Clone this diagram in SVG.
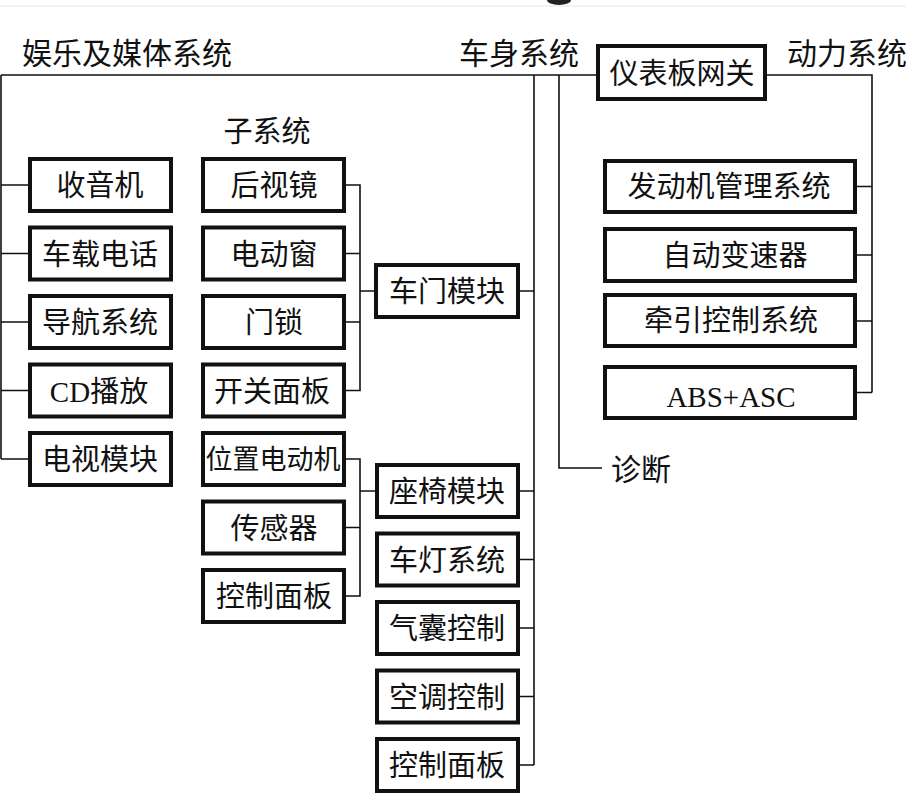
<svg xmlns="http://www.w3.org/2000/svg" width="906" height="794" viewBox="0 0 906 794">
<style>
.box{fill:#fff;stroke:#111;stroke-width:4}
.ln{fill:none;stroke:#111;stroke-width:1.6}
text{font-family:"Noto Sans CJK SC","Liberation Serif",serif;font-size:29px;fill:#111;text-anchor:middle}
.hd{text-anchor:start;font-size:30px}
.lat{font-family:"Liberation Serif",serif}
</style>
<rect width="906" height="794" fill="#fff"/>
<line x1="0" y1="6" x2="906" y2="6" stroke="#e6e6e6" stroke-width="1"/>
<ellipse cx="559" cy="0" rx="12" ry="5" fill="#222"/>

<g id="connectors">
<path class="ln" d="M1 75 H596 M767 75 H872 V392.5"/>
<path class="ln" d="M1 75 V459 M1 185 H28 M1 253.5 H28 M1 322 H28 M1 390.5 H28 M1 459 H28"/>
<path class="ln" d="M346 185 H360 V390.5 H346 M346 253.5 H360 M346 322 H360 M360 291 H374"/>
<path class="ln" d="M346 459 H360 V596 H346 M346 527.5 H360 M360 491 H375"/>
<path class="ln" d="M534 75 V765 M520 291 H534 M520 491 H534 M520 559.5 H534 M520 628 H534 M520 696.5 H534 M520 765 H534"/>
<path class="ln" d="M559 75 V468 H602"/>
<path class="ln" d="M857 186.5 H872 M857 255 H872 M857 321 H872 M857 392.5 H872"/>
</g>

<g id="labels">
<text class="hd" x="22" y="64">娱乐及媒体系统</text>
<text class="hd" x="459" y="64">车身系统</text>
<text class="hd" x="787" y="64">动力系统</text>
<text x="267" y="142">子系统</text>
<text class="hd" x="611" y="480">诊断</text>
</g>

<g id="gateway"><rect class="box" x="598" y="46" width="167" height="53"/><text x="682" y="84">仪表板网关</text></g>

<g id="radio"><rect class="box" x="30" y="159" width="141" height="52"/><text x="100" y="196">收音机</text></g>
<g id="phone"><rect class="box" x="30" y="227.5" width="141" height="52"/><text x="100" y="264.5">车载电话</text></g>
<g id="nav"><rect class="box" x="30" y="296" width="141" height="52"/><text x="100" y="333">导航系统</text></g>
<g id="cd"><rect class="box" x="30" y="364.5" width="141" height="52"/><text x="99" y="401.5"><tspan class="lat">CD</tspan>播放</text></g>
<g id="tv"><rect class="box" x="30" y="433" width="141" height="52"/><text x="100" y="470">电视模块</text></g>

<g id="mirror"><rect class="box" x="203" y="159" width="141" height="52"/><text x="274" y="196">后视镜</text></g>
<g id="window"><rect class="box" x="203" y="227.5" width="141" height="52"/><text x="274" y="264.5">电动窗</text></g>
<g id="lock"><rect class="box" x="203" y="296" width="141" height="52"/><text x="274" y="333">门锁</text></g>
<g id="switch"><rect class="box" x="203" y="364.5" width="141" height="52"/><text x="272" y="401.5">开关面板</text></g>
<g id="motor"><rect class="box" x="203" y="433" width="141" height="52"/><text x="273" y="469" style="font-size:27px">位置电动机</text></g>
<g id="sensor"><rect class="box" x="203" y="501.5" width="141" height="52"/><text x="274" y="538.5">传感器</text></g>
<g id="panel1"><rect class="box" x="203" y="570" width="141" height="52"/><text x="274" y="607">控制面板</text></g>

<g id="door"><rect class="box" x="376" y="265" width="142" height="52"/><text x="447" y="302">车门模块</text></g>
<g id="seat"><rect class="box" x="377" y="465" width="141" height="52"/><text x="447" y="502">座椅模块</text></g>
<g id="light"><rect class="box" x="377" y="533.5" width="141" height="52"/><text x="447" y="570.5">车灯系统</text></g>
<g id="airbag"><rect class="box" x="377" y="602" width="141" height="52"/><text x="447" y="639">气囊控制</text></g>
<g id="ac"><rect class="box" x="377" y="670.5" width="141" height="52"/><text x="447" y="707.5">空调控制</text></g>
<g id="panel2"><rect class="box" x="377" y="739" width="141" height="52"/><text x="447" y="776">控制面板</text></g>

<g id="engine"><rect class="box" x="605" y="161" width="250" height="51"/><text x="729" y="197">发动机管理系统</text></g>
<g id="gearbox"><rect class="box" x="605" y="229" width="250" height="52"/><text x="735" y="266">自动变速器</text></g>
<g id="traction"><rect class="box" x="605" y="295" width="250" height="51"/><text x="731" y="331">牵引控制系统</text></g>
<g id="abs"><rect class="box" x="605" y="367" width="250" height="51"/><text class="lat" x="731" y="407">ABS+ASC</text></g>
</svg>
